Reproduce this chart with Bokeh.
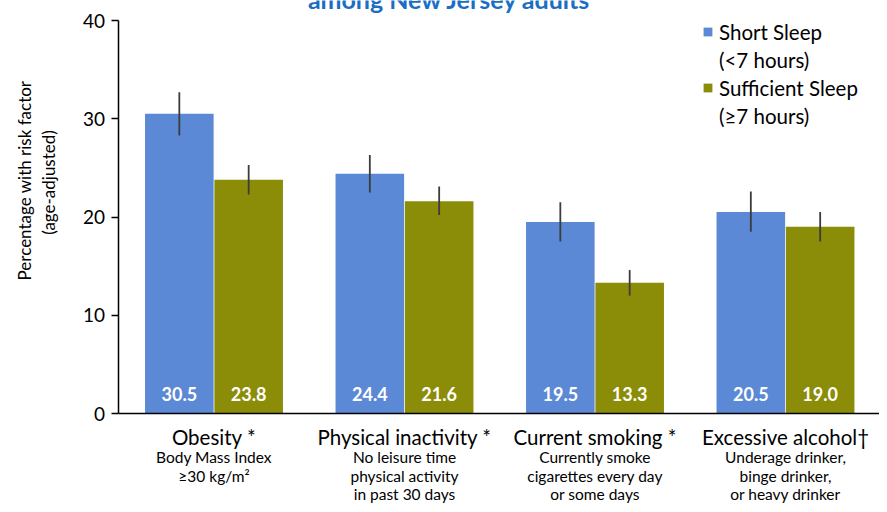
from math import pi
from bokeh.plotting import figure
from bokeh.models import Range1d, Label, Legend, LegendItem, FixedTicker, LinearAxis
from bokeh.embed import file_html
from bokeh.resources import INLINE
from bokeh.core.properties import value

# ---- data ----
categories = ["Obesity *", "Physical inactivity *", "Current smoking *", "Excessive alcohol\u2020"]
descriptions = [
    ["Body Mass Index", "\u226530 kg/m\u00b2"],
    ["No leisure time", "physical activity", "in past 30 days"],
    ["Currently smoke", "cigarettes every day", "or some days"],
    ["Underage drinker,", "binge drinker,", "or heavy drinker"],
]
short_sleep = [30.5, 24.4, 19.5, 20.5]
short_low = [28.3, 22.5, 17.5, 18.5]
short_high = [32.7, 26.3, 21.5, 22.6]
sufficient_sleep = [23.8, 21.6, 13.3, 19.0]
sufficient_low = [22.3, 20.2, 12.0, 17.5]
sufficient_high = [25.3, 23.1, 14.6, 20.5]
y_ticks = [0, 10, 20, 30, 40]
legend_lines = [["Short Sleep", "(<7 hours)"], ["Sufficient Sleep", "(\u22657 hours)"]]
title_text = "among New Jersey adults"
y_label_lines = ["Percentage with risk factor", "(age-adjusted)"]

FONT = "Lato"
BLUE = "#5B89D5"
OLIVE = "#8B8C08"
W, H = 879, 504
# pixel scale: category spacing 190.5 px, 9.825 px per percentage point
X0, XS = 213.5, 190.5
Y0, YS = 413.0, 9.825

p = figure(width=W, height=H,
           x_range=Range1d(-X0 / XS, (W - X0) / XS),
           y_range=Range1d((Y0 - H) / YS, Y0 / YS),
           x_axis_type=None, y_axis_type=None,
           output_backend="svg", toolbar_location=None, min_border=0)
p.outline_line_color = None
p.grid.visible = False

axis_x = (117.5 - X0) / XS

yax = LinearAxis(fixed_location=axis_x, bounds=(0, 40), ticker=FixedTicker(ticks=y_ticks))
yax.axis_line_width = 1.5
yax.axis_line_color = "#000000"
yax.major_tick_out = 7
yax.major_tick_in = 0
yax.major_tick_line_width = 1.5
yax.major_tick_line_color = "#000000"
yax.minor_tick_line_color = None
yax.major_label_text_font = FONT
yax.major_label_text_font_size = "19px"
yax.major_label_text_color = "#000000"
yax.major_label_standoff = 6
p.add_layout(yax, "left")

xax = LinearAxis(fixed_location=0, bounds=(axis_x, (W - X0) / XS), ticker=FixedTicker(ticks=[]))
xax.axis_line_width = 1.5
xax.axis_line_color = "#000000"
xax.major_tick_line_color = None
xax.minor_tick_line_color = None
xax.major_label_text_font_size = "0px"
p.add_layout(xax, "below")

idx = list(range(len(categories)))
off = 0.182
xs_short = [i - off for i in idx]
xs_suff = [i + off for i in idx]

r1 = p.vbar(x=xs_short, top=short_sleep, width=0.36, fill_color=BLUE, line_color=None)
r2 = p.vbar(x=xs_suff, top=sufficient_sleep, width=0.36, fill_color=OLIVE, line_color=None)

p.segment(x0=xs_short, y0=short_low, x1=xs_short, y1=short_high, line_color="#3C3C3C", line_width=1.8)
p.segment(x0=xs_suff, y0=sufficient_low, x1=xs_suff, y1=sufficient_high, line_color="#3C3C3C", line_width=1.8)

p.text(x=xs_short + xs_suff, y=[(Y0 - 393) / YS] * 8,
       text=[f"{v:.1f}" for v in short_sleep + sufficient_sleep],
       text_color="white", text_font=value(FONT), text_font_style="bold",
       text_font_size="18px", text_align="center", text_baseline="middle")

legend = Legend(items=[LegendItem(label=legend_lines[0][0], renderers=[r1]),
                       LegendItem(label=legend_lines[0][1], renderers=[]),
                       LegendItem(label=legend_lines[1][0], renderers=[r2]),
                       LegendItem(label=legend_lines[1][1], renderers=[])],
                location=(702, 375), glyph_width=11, glyph_height=11, label_standoff=6,
                label_height=27, label_text_font=FONT, label_text_font_size="20.5px",
                label_text_color="#000000",
                spacing=1, padding=0, margin=0, border_line_color=None,
                background_fill_alpha=0)
p.add_layout(legend)

cat_y = [436, 456, 475, 493]
for i, cat in enumerate(categories):
    p.add_layout(Label(x=i, y=(Y0 - cat_y[0]) / YS, text=cat, text_align="center",
                       text_baseline="middle", text_font=FONT, text_font_size="20.5px",
                       text_color="#000000"))
    for j, line in enumerate(descriptions[i]):
        p.add_layout(Label(x=i, y=(Y0 - cat_y[j + 1]) / YS, text=line, text_align="center",
                           text_baseline="middle", text_font=FONT, text_font_size="15.5px",
                           text_color="#000000"))

p.add_layout(Label(x=(24 - X0) / XS, y=(Y0 - 180) / YS, text=y_label_lines[0], angle=pi / 2,
                   text_align="center", text_baseline="middle", text_font=FONT,
                   text_font_size="17px", text_color="#000000"))
p.add_layout(Label(x=(48 - X0) / XS, y=(Y0 - 182) / YS, text=y_label_lines[1], angle=pi / 2,
                   text_align="center", text_baseline="middle", text_font=FONT,
                   text_font_size="17px", text_color="#000000"))

p.add_layout(Label(x=(449 - X0) / XS, y=(Y0 + 2) / YS, text=title_text, text_align="center",
                   text_baseline="alphabetic", text_font=FONT, text_font_style="bold",
                   text_font_size="25px", text_color="#1B6EC2"))

open("out.html", "w").write(file_html(p, INLINE))
